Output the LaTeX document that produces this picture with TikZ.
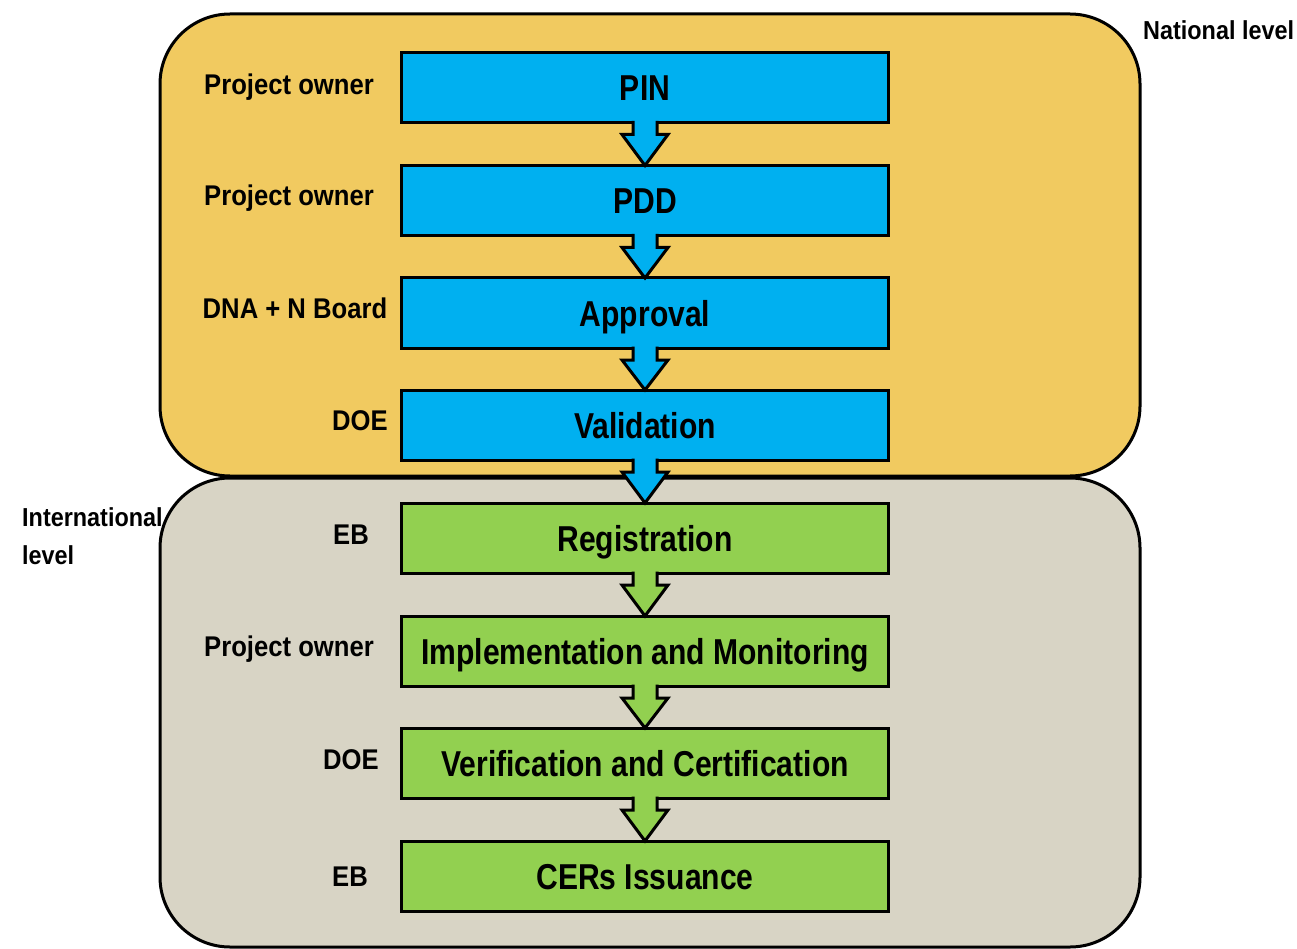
\documentclass[tikz,border=0pt]{standalone}
\usepackage{fontspec}
\setmainfont{Liberation Sans}[FakeStretch=0.835]
\newfontfamily\labelfont{Liberation Sans}[FakeStretch=0.9]
\usetikzlibrary{calc}
\definecolor{natfill}{HTML}{F1CA60}
\definecolor{intfill}{HTML}{D8D4C5}
\definecolor{bluebox}{HTML}{00B0F0}
\definecolor{greenbox}{HTML}{92D050}
\tikzset{
  region/.style={draw=black, line width=3pt, rounded corners=70pt},
  stepbox/.style={draw=black, line width=3pt, minimum width=487pt, minimum height=70pt, inner sep=0pt, outer sep=0pt, text height=26pt, text depth=0pt, font=\fontsize{36}{40}\selectfont\bfseries},
  role/.style={font=\labelfont\fontsize{28.5}{34}\selectfont\bfseries, inner sep=0pt, text height=20pt, text depth=0pt},
  levellbl/.style={font=\labelfont\fontsize{26}{38}\selectfont\bfseries, inner sep=0pt, align=left},
  blockarrow/.style={draw=black, line width=3pt, line join=miter}
}
\newcommand{\blockarr}[3]{%
  \fill[#3]
    ($(#1.south)+(-12pt,8pt)$) -- ($(#1.south)+(-12pt,-12pt)$) -- ($(#1.south)+(-23pt,-12pt)$)
    -- (#2.north)
    -- ($(#1.south)+(23pt,-12pt)$) -- ($(#1.south)+(12pt,-12pt)$) -- ($(#1.south)+(12pt,8pt)$) -- cycle;
  \draw[blockarrow]
    ($(#1.south)+(-12pt,1.5pt)$) -- ($(#1.south)+(-12pt,-12pt)$) -- ($(#1.south)+(-23pt,-12pt)$)
    -- (#2.north)
    -- ($(#1.south)+(23pt,-12pt)$) -- ($(#1.south)+(12pt,-12pt)$) -- ($(#1.south)+(12pt,1.5pt)$);}
\begin{document}
\begin{tikzpicture}[x=1pt,y=-1pt]
\useasboundingbox (0,0) rectangle (1297,949);
% regions
\draw[region, fill=intfill] (160,478) rectangle (1140,947);
\draw[region, fill=natfill] (160,14) rectangle (1140,476);
% boxes
\node[stepbox, fill=bluebox] (pin) at (645,87.5) {PIN};
\node[stepbox, fill=bluebox] (pdd) at (645,200.5) {PDD};
\node[stepbox, fill=bluebox] (appr) at (645,313) {Approval};
\node[stepbox, fill=bluebox] (valid) at (645,425) {Validation};
\node[stepbox, fill=greenbox] (reg) at (645,538) {Registration};
\node[stepbox, fill=greenbox] (impl) at (645,651) {Implementation and Monitoring};
\node[stepbox, fill=greenbox] (veri) at (645,763) {Verification and Certification};
\node[stepbox, fill=greenbox] (cers) at (645,876) {CERs Issuance};
% arrows
\blockarr{pin}{pdd}{bluebox}
\blockarr{pdd}{appr}{bluebox}
\blockarr{appr}{valid}{bluebox}
\blockarr{valid}{reg}{bluebox}
\blockarr{reg}{impl}{greenbox}
\blockarr{impl}{veri}{greenbox}
\blockarr{veri}{cers}{greenbox}
% roles
\node[role] (r1) at (289,84.5) {Project owner};
\node[role] (r2) at (289,196) {Project owner};
\node[role] (r3) at (295,308) {DNA + N Board};
\node[role] (r4) at (360,420) {DOE};
\node[role] (r5) at (351,534) {EB};
\node[role] (r6) at (289,646) {Project owner};
\node[role] (r7) at (351,759) {DOE};
\node[role] (r8) at (350,876) {EB};
% levels
\node[levellbl, anchor=west] (nat) at (1143,30) {National level};
\node[levellbl, anchor=north west] (intl) at (22,507) {International\\level};
\end{tikzpicture}
\end{document}
